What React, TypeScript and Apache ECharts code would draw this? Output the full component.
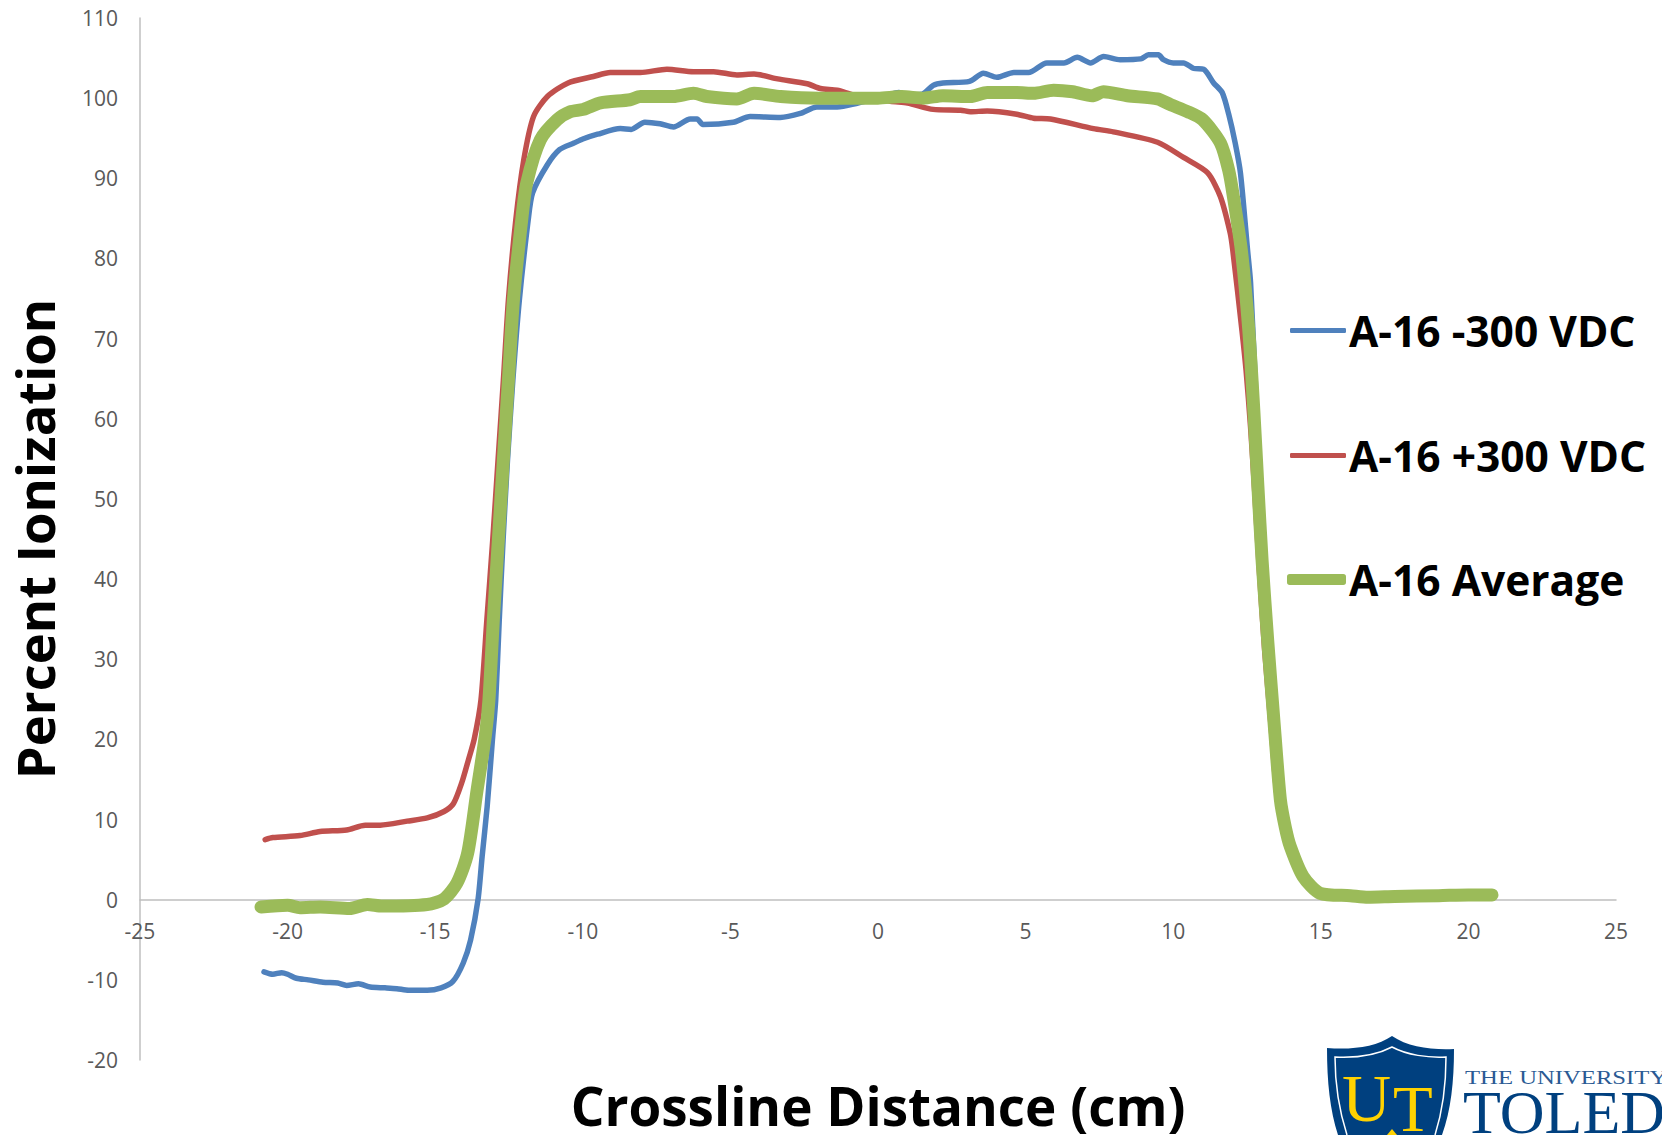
import React, { useEffect, useRef } from "react";
import * as echarts from "echarts";

const seriesNames = ["A-16 -300 VDC", "A-16 +300 VDC", "A-16 Average"];
const seriesColors = ["#4F81BD", "#C0504D", "#9BBB59"];
const xTitle = "Crossline Distance (cm)";
const yTitle = "Percent Ionization";

const blueX = [-20.8,-20.5,-20.2,-20,-19.7,-19.3,-18.8,-18.3,-18,-17.6,-17.2,-16.7,-16.3,-15.9,-15.27,-14.8,-14.4,-14.05,-13.8,-13.55,-13.41,-13.24,-13.06,-12.95,-12.83,-12.7,-12.55,-12.37,-12.15,-11.85,-11.7,-11.2,-10.78,-10.3,-10,-9.5,-8.73,-8.36,-7.9,-7.38,-6.93,-6.36,-6.13,-5.93,-4.9,-4.33,-3.31,-2.63,-2.07,-1.38,-0.68,0,0.3,0.7,1,1.5,1.87,2.2,3.1,3.57,4.03,4.6,5.1,5.72,6.3,6.75,7.2,7.64,8.2,8.9,9.16,9.5,9.67,10,10.35,10.7,11.03,11.37,11.66,11.88,12.1,12.28,12.52,12.62,12.84,12.98,13.12,13.32,13.52,13.7,14,14.4,15,16,17,18,19,20,20.8];
const blueY = [-9,-9.3,-9.1,-9.3,-9.8,-10,-10.3,-10.4,-10.7,-10.5,-10.9,-11,-11.1,-11.3,-11.3,-11,-10.2,-7.9,-5,0,5.4,11.6,20,24.9,34.9,44.9,54.9,64.8,74.8,84.8,88.2,91.7,93.6,94.4,94.9,95.5,96.2,96.1,97,96.8,96.4,97.4,97.4,96.7,97,97.7,97.6,98.1,98.9,98.9,99.4,100,100.3,100.7,100.4,100.5,101.6,101.9,102.1,103.1,102.6,103.2,103.2,104.4,104.4,105.1,104.4,105.2,104.8,104.9,105.4,105.4,104.8,104.4,104.4,103.7,103.6,101.9,100.7,98,94.4,90.6,81,77,60,50,40,30,20,12,6,2.6,0.6,0.5,0.3,0.4,0.5,0.6,0.7];

const redX = [-20.76,-20.5,-19.58,-18.9,-18,-17.37,-16.86,-15.95,-15.27,-14.7,-14.38,-14.1,-13.87,-13.68,-13.45,-13.25,-13.05,-12.87,-12.69,-12.52,-12.27,-12,-11.67,-11.2,-10.5,-9.64,-9.07,-8.05,-7.15,-6.25,-5.57,-4.78,-4.2,-3.4,-2.4,-1.95,-1.38,-0.83,0,0.42,1,1.87,2.8,3.13,3.7,4.7,5.27,5.84,7.3,7.97,9.47,10.35,11.16,11.6,11.93,12.02,12.33,12.47,12.62,12.76,12.92,13.1,13.33,13.55,13.95,14.4,15,16,17,18,19,20,20.8];
const redY = [7.5,7.75,8,8.5,8.7,9.3,9.3,9.8,10.2,11,12,14.6,17.5,20,24.9,34.9,44.9,54.9,64.8,74.8,84.8,92.3,97.7,100.2,101.9,102.7,103.2,103.2,103.6,103.3,103.3,102.9,103,102.4,101.8,101.2,101,100.4,100,99.6,99.4,98.6,98.5,98.3,98.4,98,97.5,97.4,96.2,95.8,94.5,92.6,90.7,87.7,83.2,81,71,66,59,51,41,31,21,12,6,3.2,0.8,0.5,0.3,0.4,0.5,0.6,0.6];

const avgX = [-20.9,-20,-19.58,-18.9,-17.9,-17.3,-16.8,-15.27,-14.7,-14.26,-13.9,-13.58,-13.3,-13.18,-13.03,-12.86,-12.69,-12.52,-12.35,-12.07,-11.9,-11.44,-10.87,-10.43,-9.98,-9.4,-8.4,-8.05,-6.93,-6.25,-5.8,-4.78,-4.2,-3.3,-2,-1,0,0.8,1.54,2.2,3.13,3.7,4.7,5.27,5.95,6.6,7.25,7.64,8.45,9.47,9.9,10.5,11,11.6,11.88,12.04,12.31,12.56,12.73,12.87,13.01,13.2,13.41,13.63,13.8,13.97,14.4,14.98,16,16.6,17.5,19,20,20.8];
const avgY = [-0.9,-0.7,-1,-0.9,-1.1,-0.6,-0.8,-0.6,0.1,2.1,5.8,13.7,20.5,24.9,34.9,44.9,54.9,64.8,74.8,84.8,89.4,94.8,97.3,98.3,98.6,99.4,99.8,100.2,100.2,100.6,100.2,99.9,100.6,100.2,100,100,100,100.2,100,100.3,100.2,100.7,100.7,100.6,101,100.8,100.3,100.8,100.3,99.9,99.2,98.3,97.3,94.4,91,87.7,81,71.1,61.1,51.5,42.4,32.4,22.4,12.5,9,6.6,2.9,0.8,0.5,0.3,0.4,0.5,0.6,0.6];

const pair = (xs: number[], ys: number[]) => xs.map((x, i) => [x, ys[i]]);
const FONT = "'Open Sans', sans-serif";
const SERIF = "'Liberation Serif', serif";
const LOGO_BLUE = "#00407F";
const LOGO_GOLD = "#FFD200";

let registered = false;
function registerLogo() {
  if (registered) return;
  registered = true;
  echarts.graphic.registerShape(
    "utShield",
    echarts.graphic.extendPath(
      "M1392 1036 C1376 1047 1352 1050 1327 1048 C1327 1082 1330 1110 1338 1135 L1442 1135 C1451 1110 1454 1082 1454 1049 C1431 1050 1408 1047 1392 1036 Z",
      {}
    )
  );
  echarts.graphic.registerShape(
    "utInner",
    echarts.graphic.extendPath(
      "M1347 1135 C1339 1110 1335 1085 1335 1057 C1356 1058 1377 1055 1392 1047 C1407 1055 1428 1058 1446 1057 C1446 1085 1443 1110 1435 1135",
      {}
    )
  );
  echarts.graphic.registerShape(
    "utPeak",
    echarts.graphic.extendPath("M1392 1129 L1387 1135 L1397 1135 Z", {})
  );
}

export default function App() {
  const ref = useRef<HTMLDivElement>(null);
  useEffect(() => {
    registerLogo();
    const chart = echarts.init(ref.current!, undefined, { renderer: "svg" });
    const widths = [5.5, 5.5, 13];
    const legendTops = [304, 429, 553];
    const legendHeights = [5, 5, 11];
    const legendLefts = [1285, 1285, 1282];
    const legendWidths = [56, 56, 59];
    const data = [pair(blueX, blueY), pair(redX, redY), pair(avgX, avgY)];
    chart.setOption({
      animation: false,
      backgroundColor: "#fff",
      grid: { left: 140, right: 46, top: 18, bottom: 75, outerBoundsMode: "none", containLabel: false },
      legend: seriesNames.map((name, i) => ({
        orient: "vertical",
        left: legendLefts[i],
        top: legendTops[i],
        itemWidth: legendWidths[i],
        itemHeight: legendHeights[i],
        icon: "roundRect",
        selectedMode: false,
        data: [name],
        textStyle: { fontFamily: FONT, fontWeight: "bold", fontSize: 42.5, color: "#000", padding: [0, 0, 0, -2] },
      })),
      xAxis: {
        type: "value",
        min: -25,
        max: 25,
        interval: 5,
        splitLine: { show: false },
        axisTick: { show: false },
        axisLine: { onZero: true, lineStyle: { color: "#BFBFBF", width: 1.5 } },
        axisLabel: { color: "#595959", fontFamily: FONT, fontSize: 21, margin: -140, hideOverlap: false },
        name: xTitle,
        nameLocation: "middle",
        nameGap: 19,
        nameMoveOverlap: false,
        nameTextStyle: { fontFamily: FONT, fontWeight: "bold", fontSize: 53, color: "#000" },
      },
      yAxis: {
        type: "value",
        min: -20,
        max: 110,
        interval: 10,
        splitLine: { show: false },
        axisTick: { show: false },
        axisLine: { show: true, onZero: false, lineStyle: { color: "#BFBFBF", width: 1.5 } },
        axisLabel: { color: "#595959", fontFamily: FONT, fontSize: 21, margin: 22 },
        name: yTitle,
        nameLocation: "middle",
        nameGap: 79,
        nameMoveOverlap: false,
        nameTextStyle: { fontFamily: FONT, fontWeight: "bold", fontSize: 52.5, color: "#000" },
      },
      series: seriesNames.map((name, i) => ({
        name,
        type: "line",
        data: data[i],
        showSymbol: false,
        symbol: "none",
        smooth: 0.25,
        color: seriesColors[i],
        lineStyle: { color: seriesColors[i], width: widths[i], cap: "round", join: "round" },
        z: 2 + i,
      })),
      graphic: [
        { type: "utShield", x: 0, y: 0, style: { fill: LOGO_BLUE } },
        { type: "utInner", x: 0, y: 0, z: 1, style: { fill: "none", stroke: "#fff", lineWidth: 1.5 } },
        { type: "utPeak", x: 0, y: 0, z: 1, style: { fill: LOGO_GOLD } },
        { type: "text", x: 1342, y: 1064, z: 2, style: { text: "U", fill: LOGO_GOLD, font: `68px ${SERIF}` } },
        { type: "text", x: 1393, y: 1076, z: 2, style: { text: "T", fill: LOGO_GOLD, font: `65px ${SERIF}` } },
        { type: "text", x: 1465, y: 1068, scaleX: 1.3, style: { text: "THE UNIVERSITY", fill: "#2A5A94", font: `19px ${SERIF}` } },
        { type: "text", x: 1463, y: 1081, style: { text: "TOLEDO", fill: LOGO_BLUE, font: `62px ${SERIF}` } },
      ],
    });
    return () => chart.dispose();
  }, []);
  return <div ref={ref} style={{ position: "absolute", left: 0, top: 0, width: 1662, height: 1135 }} />;
}
